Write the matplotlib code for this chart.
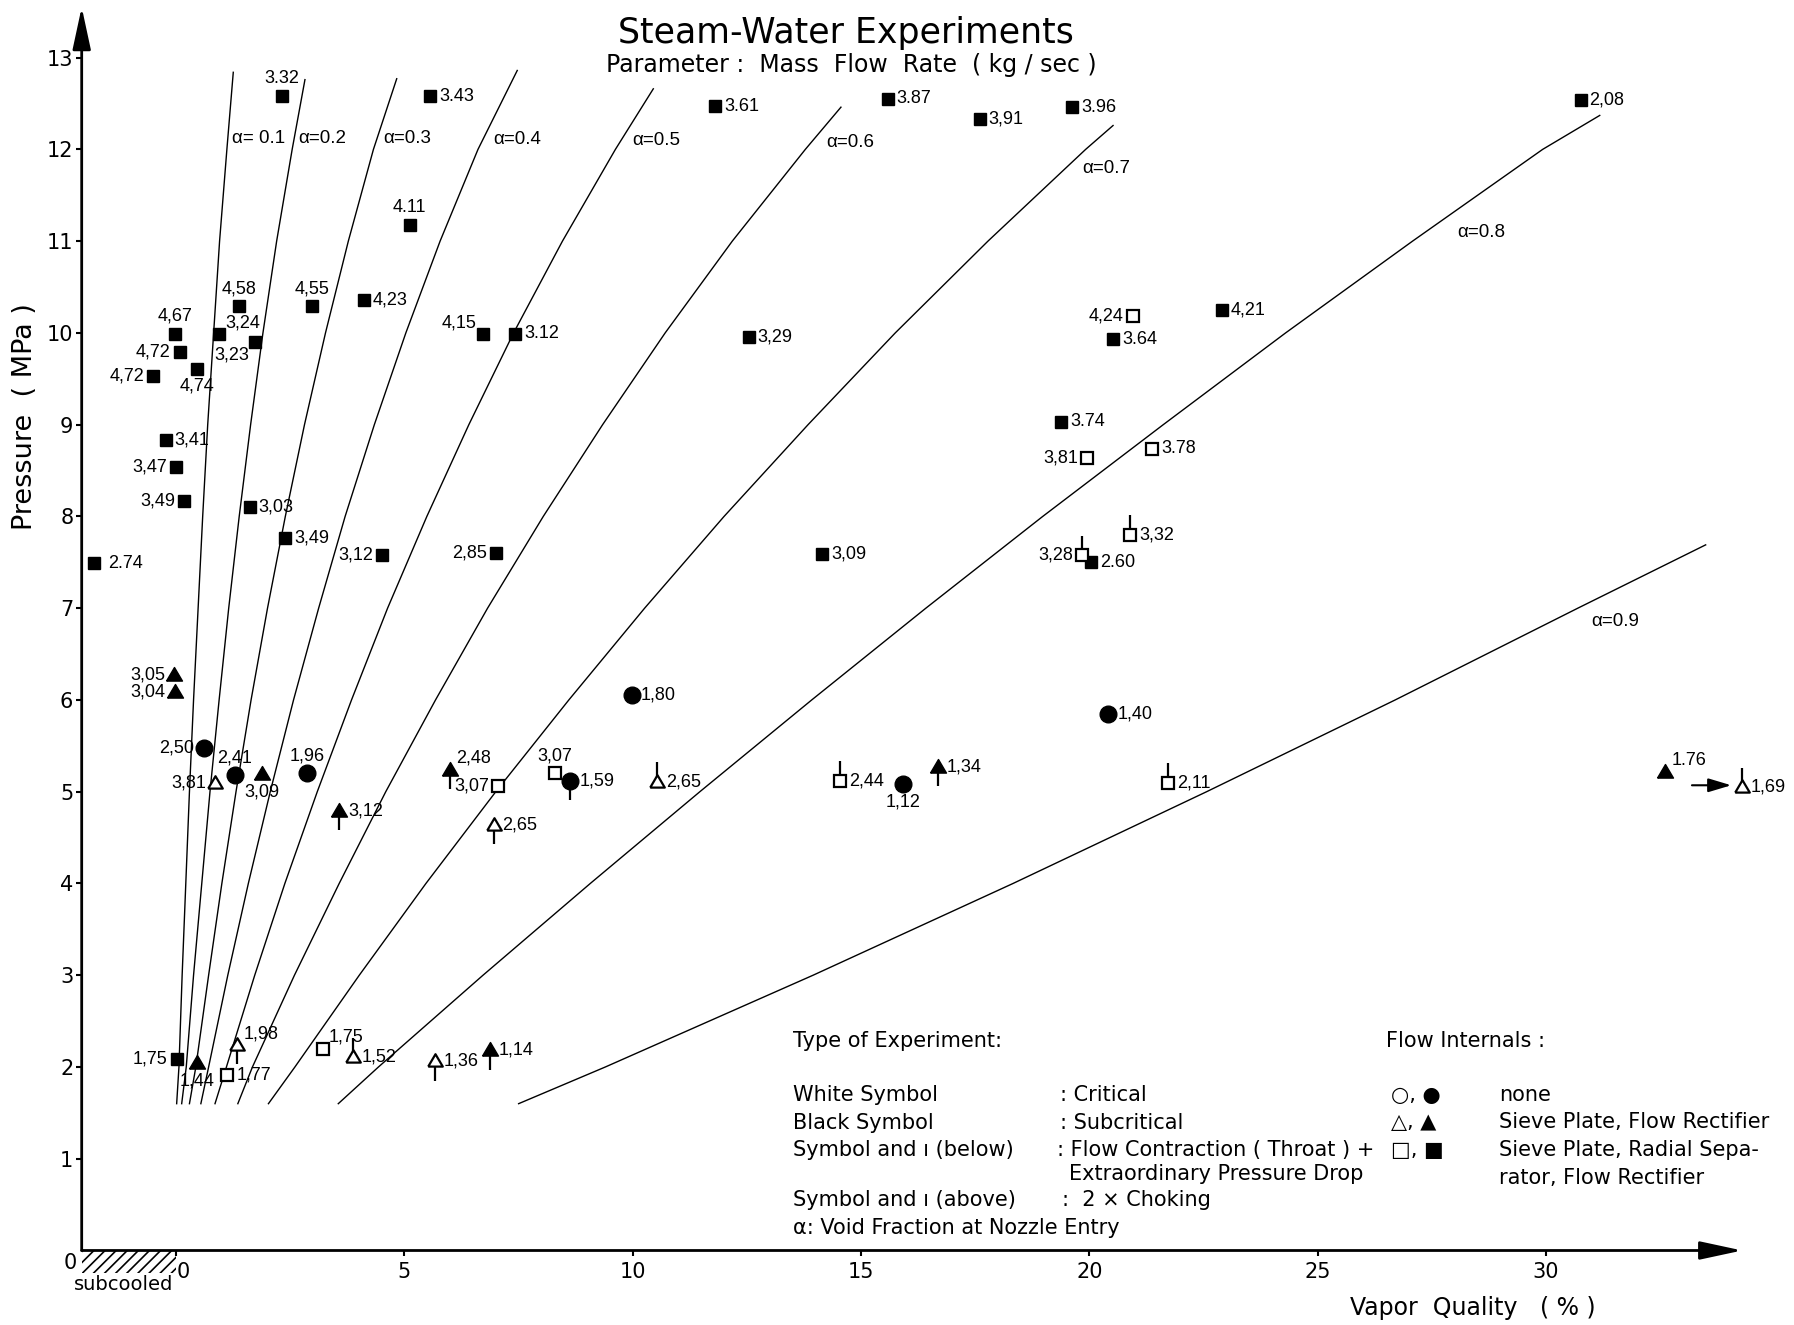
import matplotlib
matplotlib.use("Agg")
import matplotlib.pyplot as plt
from matplotlib import font_manager
from matplotlib.patches import Rectangle

# ---------------- data ----------------
# filled squares (subcritical, sieve plate + radial separator + flow rectifier)
sqf_x = [2.31, 5.56, 11.81, 15.58, 17.60, 19.63, 30.76, 5.11, 1.38, 2.98, 4.11, -0.03, 0.93, 1.73,
         0.08, 0.45, -0.50, 6.72, 7.42, 12.54, 22.90, 20.52, 19.38, -0.23, -0.01, 0.18, 1.61, 2.39,
         4.51, 7.01, 14.15, 20.04, -1.80, 0.01]
sqf_y = [12.58, 12.58, 12.47, 12.55, 12.33, 12.46, 12.54, 11.18, 10.29, 10.29, 10.36, 9.99, 9.99, 9.90,
         9.79, 9.61, 9.53, 9.99, 9.99, 9.96, 10.25, 9.93, 9.03, 8.83, 8.54, 8.17, 8.10, 7.77,
         7.58, 7.60, 7.59, 7.50, 7.49, 2.09]
sqf_lbl = ["3.32", "3.43", "3.61", "3.87", "3,91", "3.96", "2,08", "4.11", "4,58", "4,55", "4,23", "4,67",
           "3,24", "3,23", "4,72", "4,74", "4,72", "4,15", "3.12", "3,29", "4,21", "3.64", "3.74", "3,41",
           "3,47", "3,49", "3,03", "3,49", "3,12", "2,85", "3,09", "2.60", "2.74", "1,75"]

# open squares (critical)
sqo_x = [20.95, 19.96, 21.37, 20.90, 19.84, 14.55, 21.73, 8.30, 7.05, 3.21, 1.12]
sqo_y = [10.18, 8.64, 8.74, 7.80, 7.58, 5.12, 5.10, 5.20, 5.06, 2.20, 1.91]
sqo_lbl = ["4,24", "3,81", "3.78", "3,32", "3,28", "2,44", "2,11", "3,07", "3,07", "1,75", "1,77"]

# filled circles (no internals, subcritical)
cif_x = [9.98, 20.42, 0.60, 1.28, 2.86, 8.63, 15.91]
cif_y = [6.05, 5.85, 5.48, 5.18, 5.20, 5.12, 5.08]
cif_lbl = ["1,80", "1,40", "2,50", "2,41", "1,96", "1,59", "1,12"]

# filled triangles (sieve plate + flow rectifier, subcritical)
trf_x = [-0.05, -0.03, 1.88, 3.57, 6.00, 16.68, 6.87, 32.62, 0.45]
trf_y = [6.27, 6.09, 5.19, 4.79, 5.24, 5.27, 2.18, 5.22, 2.04]
trf_lbl = ["3,05", "3,04", "3,09", "3,12", "2,48", "1,34", "1,14", "1.76", "1,44"]

# open triangles (sieve plate + flow rectifier, critical)
tro_x = [0.86, 10.53, 6.95, 1.34, 3.87, 5.67, 34.29]
tro_y = [5.10, 5.11, 4.64, 2.24, 2.11, 2.06, 5.05]
tro_lbl = ["3,81", "2,65", "2,65", "1,98", "1,52", "1,36", "1,69"]

# void-fraction iso-lines: pressure (MPa) and vapor quality (%) along each line
alpha_vals = [0.1, 0.2, 0.3, 0.4, 0.5, 0.6, 0.7, 0.8, 0.9]
P_STD = [1.6, 2, 3, 4, 5, 6, 7, 8, 9, 10, 11, 12]
alpha_p = [P_STD + [12.84], P_STD + [12.76], P_STD + [12.77], P_STD + [12.86], P_STD + [12.66],
           P_STD + [12.46], P_STD + [12.26], P_STD + [12.37], [1.6, 2, 3, 4, 5, 6, 7, 7.69]]
alpha_x = [
    [0.01, 0.06, 0.13, 0.21, 0.29, 0.38, 0.48, 0.58, 0.69, 0.82, 0.95, 1.11, 1.25],
    [0.12, 0.22, 0.38, 0.56, 0.74, 0.94, 1.15, 1.38, 1.63, 1.90, 2.20, 2.54, 2.82],
    [0.29, 0.43, 0.71, 1.00, 1.31, 1.64, 2.00, 2.39, 2.81, 3.27, 3.77, 4.32, 4.83],
    [0.54, 0.71, 1.13, 1.58, 2.06, 2.57, 3.12, 3.70, 4.34, 5.03, 5.78, 6.61, 7.47],
    [0.85, 1.10, 1.72, 2.38, 3.09, 3.84, 4.63, 5.49, 6.41, 7.39, 8.46, 9.62, 10.45],
    [1.35, 1.67, 2.59, 3.57, 4.59, 5.68, 6.82, 8.04, 9.34, 10.71, 12.18, 13.78, 14.56],
    [2.02, 2.60, 4.01, 5.47, 7.00, 8.60, 10.26, 12.00, 13.84, 15.75, 17.78, 19.92, 20.52],
    [3.55, 4.43, 6.72, 9.07, 11.47, 13.92, 16.42, 18.98, 21.62, 24.30, 27.08, 29.93, 31.18],
    [7.50, 9.40, 13.95, 18.33, 22.57, 26.70, 30.70, 33.50],
]
alpha_lbl = ["α= 0.1", "α=0.2", "α=0.3", "α=0.4", "α=0.5", "α=0.6", "α=0.7", "α=0.8", "α=0.9"]

x_ticks = [0, 5, 10, 15, 20, 25, 30]
y_ticks = [1, 2, 3, 4, 5, 6, 7, 8, 9, 10, 11, 12, 13]

title = "Steam-Water Experiments"
subtitle = "Parameter :  Mass  Flow  Rate  ( kg / sec )"
xlabel = "Vapor  Quality   ( % )"
ylabel = "Pressure  ( MPa )"

legend_left = ["Type of Experiment:", "White Symbol", "Black Symbol", "Symbol and ı (below)",
               "Symbol and ı (above)", "α: Void Fraction at Nozzle Entry"]
legend_mid = [": Critical", ": Subcritical", ": Flow Contraction ( Throat ) +",
              "Extraordinary Pressure Drop", ":  2 × Choking"]
legend_right_sym = ["○, ●", "△, ▲", "□, ■"]
legend_right_txt = ["Flow Internals :", "none", "Sieve Plate, Flow Rectifier",
                    "Sieve Plate, Radial Sepa-", "rator, Flow Rectifier"]

# ---------------- styles (placement codes, stems) ----------------
sqf_pos = ['a', 'r', 'r', 'r', 'r', 'r', 'r', 'a', 'a', 'a', 'r', 'a', 'ar', 'bl', 'l', 'b', 'l', 'al',
           'r', 'r', 'r', 'r', 'r', 'r', 'l', 'l', 'r', 'r', 'l', 'l', 'r', 'r', 'r2', 'l']
sqo_pos = ['l', 'l', 'r', 'r', 'l', 'r', 'r', 'a', 'l', 'ar', 'r']
sqo_stem = ['', '', '', 'a', 'a', 'a', 'a', '', '', '', '']
cif_pos = ['r', 'r', 'l', 'a', 'a', 'r', 'b']
cif_stem = ['', '', '', '', '', 'b', '']
trf_pos = ['l', 'l', 'b', 'r', 'ar', 'r', 'r', 'ar', 'b']
trf_stem = ['', '', '', 'b', 'b', 'b', 'b', '', '']
tro_pos = ['l', 'r', 'r', 'ar', 'r', 'r', 'r']
tro_stem = ['', 'a', 'b', 'b', 'a', 'b', 'a']

names = {f.name for f in font_manager.fontManager.ttflist}
if 'Liberation Sans Narrow' in names:
    NARROW = dict(family=['Liberation Sans Narrow', 'DejaVu Sans'])
    LAB_FS = 14.5
    ALPHA_FS = 15.5
elif 'Liberation Sans' in names:
    NARROW = dict(family=['Liberation Sans', 'DejaVu Sans'])
    LAB_FS = 13
    ALPHA_FS = 13.5
else:
    NARROW = dict(family=['DejaVu Sans'])
    LAB_FS = 12.5
    ALPHA_FS = 13
MAIN = dict(family=['DejaVu Sans'])

OFF = {'r': (6.5, 0, 'left', 'center'),
       'r2': (10, 0, 'left', 'center'),
       'l': (-6.5, 0, 'right', 'center'),
       'a': (0, 6.5, 'center', 'bottom'),
       'b': (0, -6.5, 'center', 'top'),
       'ar': (4.5, 2, 'left', 'bottom'),
       'al': (-5, 2, 'right', 'bottom'),
       'bl': (-4, -3, 'right', 'top')}

fig = plt.figure(figsize=(17.94, 13.25), dpi=100)
ax = fig.add_axes([0.04554, 0.05623, 0.9383, 0.94184])
ax.set_xlim(-2.07, 34.8)
ax.set_ylim(0, 13.6)
for s in ax.spines.values():
    s.set_visible(False)
ax.set_facecolor('white')

# axes with arrows
arrow_kw = dict(arrowstyle='-|>,head_length=1.3,head_width=0.28', lw=2.0, color='k',
                shrinkA=0, shrinkB=0, mutation_scale=20)
ax.annotate('', xy=(34.3, 0), xytext=(-2.07, 0), arrowprops=arrow_kw, annotation_clip=False)
ax.annotate('', xy=(-2.07, 13.55), xytext=(-2.07, 0), arrowprops=arrow_kw, annotation_clip=False)

ax.set_xticks(x_ticks)
ax.set_xticklabels([str(t) for t in x_ticks])
ax.set_yticks(y_ticks)
ax.set_yticklabels([str(t) for t in y_ticks])
ax.tick_params(axis='both', direction='out', width=1.5, length=4, labelsize=15, colors='k')
ax.tick_params(axis='x', pad=4.5)
ax.tick_params(axis='y', pad=2)
ax.get_xticklabels()[0].set_horizontalalignment('left')

# subcooled hatched region
matplotlib.rcParams['hatch.linewidth'] = 1.2
ax.add_patch(Rectangle((-2.07, -0.245), 2.07, 0.245, facecolor='none', edgecolor='k', hatch='///',
                       linewidth=0, clip_on=False))
ax.text(-1.16, -0.376, "subcooled", ha='center', va='center', fontsize=14, clip_on=False, **MAIN)
ax.text(-2.33, -0.14, "0", ha='center', va='center', fontsize=15, clip_on=False, **MAIN)

# alpha lines
for xs, ps in zip(alpha_x, alpha_p):
    ax.plot(xs, ps, color='k', lw=1.0, zorder=1)
alpha_lbl_pos = [(1.22, 12.12), (2.67, 12.12), (4.54, 12.12), (6.95, 12.11), (9.99, 12.10),
                 (14.24, 12.08), (19.84, 11.79), (28.07, 11.09), (31.0, 6.85)]
for t, (lx, ly) in zip(alpha_lbl, alpha_lbl_pos):
    ax.text(lx, ly, t, ha='left', va='center', fontsize=ALPHA_FS, **NARROW)

TRI = [(-1, -0.7), (1, -0.7), (0, 1.0), (-1, -0.7)]


def draw_group(xs, ys, lbls, pos, stems, marker, ms, filled):
    for i, (x, y) in enumerate(zip(xs, ys)):
        st = stems[i] if stems else ''
        if st == 'b':
            ax.plot([x, x], [y, y - 0.21], color='k', lw=1.6, zorder=2, solid_capstyle='butt')
        elif st == 'a':
            ax.plot([x, x], [y, y + 0.21], color='k', lw=1.6, zorder=2, solid_capstyle='butt')
        ax.plot([x], [y], linestyle='none', marker=marker, ms=ms,
                mfc='k' if filled else 'white', mec='k', mew=1.0 if filled else 1.6,
                zorder=3, clip_on=False)
        dx, dy, ha, va = OFF[pos[i]]
        ax.annotate(lbls[i], (x, y), xytext=(dx, dy), textcoords='offset points',
                    ha=ha, va=va, fontsize=LAB_FS, annotation_clip=False, **NARROW)


draw_group(sqf_x, sqf_y, sqf_lbl, sqf_pos, None, 's', 9.3, True)
draw_group(sqo_x, sqo_y, sqo_lbl, sqo_pos, sqo_stem, 's', 8.3, False)
draw_group(cif_x, cif_y, cif_lbl, cif_pos, cif_stem, 'o', 12.0, True)
draw_group(trf_x, trf_y, trf_lbl, trf_pos, trf_stem, TRI, 11.5, True)
draw_group(tro_x, tro_y, tro_lbl, tro_pos, tro_stem, TRI, 10.5, False)

# arrow from 1.76 to 1.69
ax.annotate('', xy=(34.06, 5.07), xytext=(33.2, 5.07),
            arrowprops=dict(arrowstyle='-|>,head_length=1.0,head_width=0.3', lw=1.5, color='k',
                            shrinkA=0, shrinkB=0, mutation_scale=14), annotation_clip=False)

# titles and axis labels
ax.text(14.67, 13.27, title, ha='center', va='center', fontsize=25, **MAIN)
ax.text(14.78, 12.92, subtitle, ha='center', va='center', fontsize=17, **MAIN)
ax.text(28.39, -0.63, xlabel, ha='center', va='center', fontsize=17, clip_on=False, **MAIN)
ax.text(-3.31, 9.09, ylabel, ha='center', va='center', rotation=90, fontsize=19.5, clip_on=False, **MAIN)

# legend block
LFS = 15
left_y = [2.28, 1.695, 1.386, 1.10, 0.55, 0.24]
for t, y in zip(legend_left, left_y):
    ax.text(13.52, y, t, ha='left', va='center', fontsize=LFS, **MAIN)
mid_pos = [(19.35, 1.695), (19.35, 1.386), (19.3, 1.10), (19.55, 0.834), (19.4, 0.55)]
for t, (x, y) in zip(legend_mid, mid_pos):
    ax.text(x, y, t, ha='left', va='center', fontsize=LFS, **MAIN)
sym_y = [1.695, 1.40, 1.09]
for t, y in zip(legend_right_sym, sym_y):
    ax.text(26.6, y, t, ha='left', va='center', fontsize=LFS, **MAIN)
right_pos = [(26.50, 2.28), (28.98, 1.695), (28.98, 1.40), (28.98, 1.09), (28.98, 0.79)]
for t, (x, y) in zip(legend_right_txt, right_pos):
    ax.text(x, y, t, ha='left', va='center', fontsize=LFS, **MAIN)

fig.savefig("out.png", dpi=100, facecolor='white')
